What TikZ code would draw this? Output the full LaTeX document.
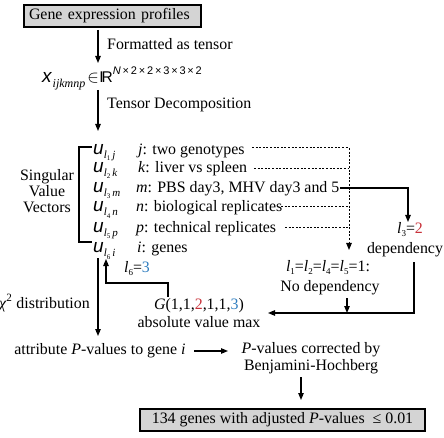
\documentclass[tikz,border=0pt]{standalone}
\usepackage{amsmath,amssymb}
\usepackage{fontspec}
\setmainfont{Liberation Serif}
\newfontfamily\hvfont{Liberation Sans}
\usetikzlibrary{arrows.meta}
\definecolor{myred}{HTML}{C8323A}
\definecolor{myblue}{HTML}{2F7DBF}
\definecolor{boxgray}{HTML}{D4D4D4}
\newcommand\fs{\fontsize{15.9}{16.5}\selectfont}
\newcommand\myu[2]{{\hvfont\itshape\fontsize{19}{19}\selectfont u}\raisebox{-4pt}{\fontsize{11}{11}\selectfont\itshape l\raisebox{-2pt}{\fontsize{7}{7}\selectfont\upshape #1}\kern2pt #2}}
\newcommand\myl[1]{\textit{l}\raisebox{-3pt}{\fontsize{9}{9}\selectfont #1}}
\tikzset{
  lbl/.style={inner sep=0pt, font=\fs},
  graybox/.style={draw, line width=1.2pt, fill=boxgray, inner ysep=0pt, minimum height=22pt, font=\fs},
  arr/.style={-{Triangle[length=7pt,width=5.5pt]}, line width=1.1pt},
  plainline/.style={line width=1.1pt},
  dotl/.style={line width=1pt, dash pattern=on 2pt off 1.6pt},
  dotarr/.style={dotl, -{Triangle[length=7pt,width=5.5pt]}},
}
\begin{document}
\begin{tikzpicture}[x=1pt,y=-1pt]
\useasboundingbox (0,0) rectangle (444,438);
% top box
\node[graybox, inner xsep=5pt, text width=167pt, align=left] (gep) at (112.5,16) {Gene expression profiles};
\coordinate (a1s) at (98,30);
\coordinate (a1e) at (98,63);
\draw[arr] (a1s) -- (a1e);
\node[lbl, anchor=west] (fmt) at (107,44) {Formatted as tensor};
% tensor
\node[lbl, anchor=base west] (ten) at (42,83) {{\hvfont\itshape\fontsize{19}{19}\selectfont x}\kern1pt\raisebox{-5pt}{\fontsize{12}{12}\selectfont\itshape ijkmnp}\kern2pt{\fontsize{16}{16}\selectfont$\in$}\kern0.5pt{\hvfont\fontsize{15.5}{15.5}\selectfont I\kern-2pt R}\raisebox{8pt}{\hvfont\fontsize{11}{11}\selectfont\itshape N\upshape\,×\,2\,×\,2\,×\,3\,×\,3\,×\,2}};
\coordinate (a2s) at (98,90);
\coordinate (a2e) at (98,131);
\draw[arr] (a2s) -- (a2e);
\node[lbl, anchor=west] (tdec) at (107,105) {Tensor Decomposition};
% singular value vectors
\node[lbl, align=center, font=\fontsize{15.9}{16}\selectfont] (svv) at (47,191) {Singular\\Value\\Vectors};
\coordinate (b1) at (92,147);
\coordinate (b2) at (79,147);
\coordinate (b3) at (79,242);
\coordinate (b4) at (92,242);
\draw[plainline] (b1) -- (b2) -- (b3) -- (b4);
% u rows
\node[lbl, anchor=base west] (u1) at (93,155) {\myu{1}{j}};
\node[lbl, anchor=base west] (u2) at (93,173) {\myu{2}{k}};
\node[lbl, anchor=base west] (u3) at (93,193) {\myu{3}{m}};
\node[lbl, anchor=base west] (u4) at (93,212) {\myu{4}{n}};
\node[lbl, anchor=base west] (u5) at (93,233) {\myu{5}{p}};
\node[lbl, anchor=base west] (u6) at (93,253) {\myu{6}{i}};
% descriptions
\node[lbl, anchor=base west] (dj) at (138,155) {\textit{j}: two genotypes};
\node[lbl, anchor=base west] (dk) at (138,173) {\textit{k}: liver vs spleen};
\node[lbl, anchor=base west] (dm) at (136,193) {\textit{m}: PBS day3, MHV day3 and 5};
\node[lbl, anchor=base west] (dn) at (136,212) {\textit{n}: biological replicates};
\node[lbl, anchor=base west] (dp) at (136,233) {\textit{p}: technical replicates};
\node[lbl, anchor=base west] (di) at (137,253) {\textit{i}: genes};
% dotted lines
\coordinate (vtop) at (349,148);
\coordinate (vbot) at (349,250);
\coordinate (dj1) at (252,148);
\coordinate (dk1) at (254,169);
\coordinate (dn1) at (281,207);
\coordinate (dp1) at (285,228);
\draw[dotl] (dj1) -- (vtop);
\draw[dotl] (dk1) -- (dk1 -| vtop);
\draw[dotl] (dn1) -- (dn1 -| vtop);
\draw[dotl] (dp1) -- (dp1 -| vtop);
\draw[dotarr] (vtop) -- (vbot);
% m line
\coordinate (m1) at (340,188);
\coordinate (m2) at (408,188);
\coordinate (m3) at (408,222);
\draw[arr] (m1) -- (m2) -- (m3);
\node[lbl] (l3) at (410,230) {\myl{3}=\textcolor{myred}{2}};
\node[lbl] (dep) at (405,250) {dependency};
% no dependency
\node[lbl] (l1) at (328,268) {\myl{1}=\myl{2}=\myl{4}=\myl{5}=1:};
\node[lbl] (nodep) at (330,288) {No dependency};
\coordinate (c1) at (414,262);
\coordinate (c2) at (414,313);
\coordinate (c3) at (268,313);
\draw[arr] (c1) -- (c2) -- (c3);
\coordinate (nd1) at (347,298);
\coordinate (nd2) at (347,313);
\draw[arr] (nd1) -- (nd2);
% G
\node[lbl] (gmax) at (199,306) {\textit{G}(1,1,\textcolor{myred}{2},1,1,\textcolor{myblue}{3})};
\node[lbl] (absmax) at (199,322) {absolute value max};
\coordinate (g1) at (168,297);
\coordinate (g2) at (168,283);
\coordinate (g3) at (106,283);
\coordinate (g4) at (106,259);
\draw[arr] (g1) -- (g2) -- (g3) -- (g4);
\node[lbl] (l6) at (137,269) {\myl{6}=\textcolor{myblue}{3}};
% chi2
\coordinate (x1) at (98,258);
\coordinate (x2) at (98,336);
\draw[arr] (x1) -- (x2);
\node[lbl, anchor=east] (chi) at (90,303) {\textit{χ}\textsuperscript{2} distribution};
% bottom
\node[lbl] (attr) at (100,351) {attribute \textit{P}-values to gene \textit{i}};
\coordinate (h1) at (194,351);
\coordinate (h2) at (228,351);
\draw[arr] (h1) -- (h2);
\node[lbl, align=center, font=\fontsize{15.9}{17}\selectfont] (pcor) at (311,358) {\textit{P}-values corrected by\\Benjamini-Hochberg};
\coordinate (k1) at (301,377);
\coordinate (k2) at (301,400);
\draw[arr] (k1) -- (k2);
\node[graybox, minimum width=285pt, inner xsep=0pt] (res) at (282.5,420) {134 genes with adjusted \textit{P}-values\ \ ≤ 0.01};
\end{tikzpicture}
\end{document}
